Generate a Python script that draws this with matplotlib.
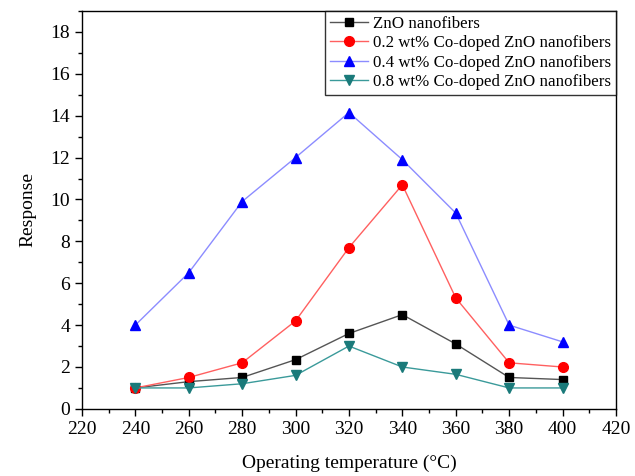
import matplotlib.pyplot as plt
from matplotlib.ticker import MultipleLocator

plt.rcParams['font.family'] = ['Liberation Serif', 'DejaVu Serif']

temps = [240, 260, 280, 300, 320, 340, 360, 380, 400]
zno = [1.0, 1.3, 1.5, 2.35, 3.6, 4.5, 3.1, 1.5, 1.4]
co02 = [1.0, 1.5, 2.2, 4.2, 7.7, 10.7, 5.3, 2.2, 2.0]
co04 = [4.0, 6.5, 9.9, 12.0, 14.15, 11.9, 9.35, 4.0, 3.2]
co08 = [1.0, 1.0, 1.2, 1.6, 3.0, 2.0, 1.65, 1.0, 1.0]

labels = ['ZnO nanofibers',
          '0.2 wt% Co-doped ZnO nanofibers',
          '0.4 wt% Co-doped ZnO nanofibers',
          '0.8 wt% Co-doped ZnO nanofibers']

fig = plt.figure(figsize=(6.35, 4.76), dpi=100)
ax = fig.add_axes([0.129, 0.141, 0.841, 0.836])

ax.plot(temps, zno, color='#555555', lw=1, marker='s', ms=6, mfc='black', mec='black', label=labels[0])
ax.plot(temps, co02, color='#ff6060', lw=1, marker='o', ms=7, mfc='red', mec='red', label=labels[1])
ax.plot(temps, co04, color='#8c8cff', lw=1, marker='^', ms=7, mfc='blue', mec='blue', label=labels[2])
ax.plot(temps, co08, color='#3a9a9a', lw=1, marker='v', ms=7, mfc='#1a7a7a', mec='#1a7a7a', label=labels[3])

ax.set_xlim(220, 420)
ax.set_ylim(0, 19)
ax.xaxis.set_major_locator(MultipleLocator(20))
ax.xaxis.set_minor_locator(MultipleLocator(10))
ax.yaxis.set_major_locator(MultipleLocator(2))
ax.yaxis.set_minor_locator(MultipleLocator(1))
ax.tick_params(which='major', length=5, width=1, labelsize=14)
ax.tick_params(which='minor', length=3, width=1)
for s in ax.spines.values():
    s.set_linewidth(1)

ax.set_xlabel('Operating temperature (°C)', fontsize=14, labelpad=12)
ax.set_ylabel('Response', fontsize=14, labelpad=10)

leg = ax.legend(loc='upper right', fontsize=12.2, frameon=True, fancybox=False,
                edgecolor='black', borderaxespad=0, handlelength=2.2,
                handletextpad=0.3, labelspacing=0.2, borderpad=0.3)
leg.get_frame().set_linewidth(1)

fig.savefig('out.png', dpi=100)
